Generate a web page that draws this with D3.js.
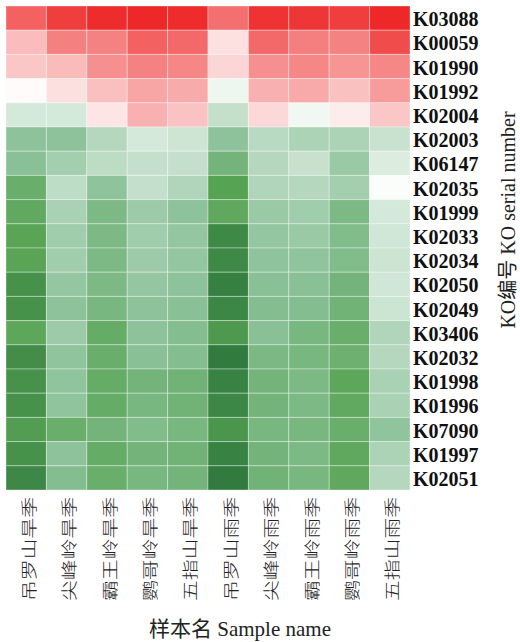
<!DOCTYPE html>
<html>
<head>
<meta charset="utf-8">
<script src="https://cdn.jsdelivr.net/npm/d3@7"></script>
<style>
  body { margin: 0; background: #fff; }
  svg { display: block; }
  .row-label { font-family: "Liberation Serif", "Times New Roman", serif; font-weight: bold; font-size: 20px; fill: #111; }
  .col-label { font-family: "Noto Sans CJK SC", sans-serif; font-size: 16px; font-weight: 300; fill: #222; }
  .axis-title { font-family: "Liberation Serif", "Noto Sans CJK SC", serif; font-size: 20px; fill: #222; }
</style>
</head>
<body>
<div id="chart"></div>
<script>
/**
 * DATA
 * */
const samples = ["吊罗山旱季", "尖峰岭旱季", "霸王岭旱季", "鹦哥岭旱季", "五指山旱季",
  "吊罗山雨季", "尖峰岭雨季", "霸王岭雨季", "鹦哥岭雨季", "五指山雨季"];

const koIds = ["K03088", "K00059", "K01990", "K01992", "K02004", "K02003", "K06147",
  "K02035", "K01999", "K02033", "K02034", "K02050", "K02049", "K03406", "K02032",
  "K01998", "K01996", "K07090", "K01997", "K02051"];

// one row per KO id, one value per sample (scaled abundance)
const values = [
  [2.2, 2.7, 2.95, 3.0, 2.95, 2.0, 2.85, 2.8, 2.7, 3.0],
  [0.93, 1.77, 1.74, 2.2, 2.1, 0.42, 2.1, 1.8, 1.74, 2.5],
  [0.8, 0.95, 1.55, 1.75, 1.68, 0.57, 1.55, 1.68, 1.5, 1.68],
  [0.05, 0.45, 0.9, 1.26, 1.17, -0.25, 1.1, 1.2, 0.87, 1.4],
  [-0.6, -0.6, 0.36, 1.1, 0.85, -0.85, 0.55, -0.2, 0.27, 0.8],
  [-1.64, -1.64, -1.07, -0.6, -0.71, -1.64, -1.0, -1.19, -1.19, -0.79],
  [-1.7, -1.3, -0.96, -0.84, -0.84, -1.99, -1.07, -0.81, -1.47, -0.5],
  [-2.16, -0.93, -1.61, -0.84, -1.13, -2.41, -1.13, -1.07, -1.3, -0.06],
  [-2.27, -1.24, -1.87, -1.41, -1.64, -2.3, -1.47, -1.36, -1.87, -0.6],
  [-2.39, -1.36, -1.87, -1.36, -1.53, -2.79, -1.53, -1.47, -1.81, -0.67],
  [-2.39, -1.36, -1.87, -1.41, -1.53, -2.79, -1.61, -1.6, -1.81, -0.73],
  [-2.67, -1.53, -1.87, -1.53, -1.64, -2.93, -1.7, -1.7, -1.99, -0.67],
  [-2.67, -1.64, -1.93, -1.64, -1.7, -2.83, -1.76, -1.76, -2.04, -0.73],
  [-2.33, -1.41, -2.21, -1.64, -1.76, -2.56, -1.7, -1.93, -2.16, -1.13],
  [-2.73, -1.6, -2.16, -1.7, -1.76, -3.0, -1.9, -1.93, -2.1, -1.07],
  [-2.67, -1.6, -2.21, -1.99, -2.04, -2.9, -1.99, -1.87, -2.33, -1.24],
  [-2.67, -1.6, -2.21, -1.93, -2.04, -2.83, -1.99, -1.87, -2.27, -1.24],
  [-2.5, -2.16, -1.99, -1.81, -1.93, -2.6, -1.93, -1.93, -2.16, -1.6],
  [-2.67, -1.64, -2.21, -1.99, -2.04, -2.9, -1.99, -1.87, -2.3, -1.19],
  [-2.81, -1.76, -2.16, -1.93, -1.99, -3.0, -2.04, -1.93, -2.3, -1.07]
];

const colorStops = [-3, -2.4, -1.65, 0, 3];
const colorRange = ["#317b3f", "#58a454", "#8cc29a", "#ffffff", "#ee2828"];

/**
 * CONSTANTS
 * */
const width = 520,
  height = 642,
  margin = { top: 6, left: 6, right: 110, bottom: 152 };

const svg = d3.select("#chart")
  .append("svg")
  .attr("width", width)
  .attr("height", height);

const x = d3.scaleBand()
  .domain(samples)
  .range([margin.left, 410]);

const y = d3.scaleBand()
  .domain(koIds)
  .range([margin.top, 490]);

const color = d3.scaleLinear()
  .domain(colorStops)
  .range(colorRange)
  .clamp(true);

// flatten into cells
const cells = [];
koIds.forEach((ko, i) => {
  samples.forEach((s, j) => {
    cells.push({ ko, sample: s, value: values[i][j] });
  });
});

svg.append("g")
  .selectAll("rect")
  .data(cells)
  .join("rect")
  .attr("x", d => x(d.sample))
  .attr("y", d => y(d.ko))
  .attr("width", x.bandwidth())
  .attr("height", y.bandwidth())
  .attr("fill", d => color(d.value))
  .attr("stroke", "rgba(255,255,255,0.35)")
  .attr("stroke-width", 1);

// row labels on the right
svg.append("g")
  .selectAll("text")
  .data(koIds)
  .join("text")
  .attr("class", "row-label")
  .attr("x", 413)
  .attr("y", d => y(d) + y.bandwidth() / 2 + 8)
  .text(d => d);

// column labels, rotated, reading bottom to top
svg.append("g")
  .selectAll("text")
  .data(samples)
  .join("text")
  .attr("class", "col-label")
  .attr("transform", d => `translate(${x(d) + x.bandwidth() / 2 + 3},497) rotate(-90) scale(1.3,1)`)
  .attr("text-anchor", "end")
  .attr("dy", "0.35em")
  .text(d => d);

// axis titles
svg.append("text")
  .attr("class", "axis-title")
  .attr("x", 240)
  .attr("y", 636)
  .attr("text-anchor", "middle")
  .style("font-size", "21px")
  .text("样本名 Sample name");

svg.append("text")
  .attr("class", "axis-title")
  .attr("transform", "translate(515,220) rotate(-90)")
  .attr("text-anchor", "middle")
  .text("KO编号 KO serial number");
</script>
</body>
</html>
